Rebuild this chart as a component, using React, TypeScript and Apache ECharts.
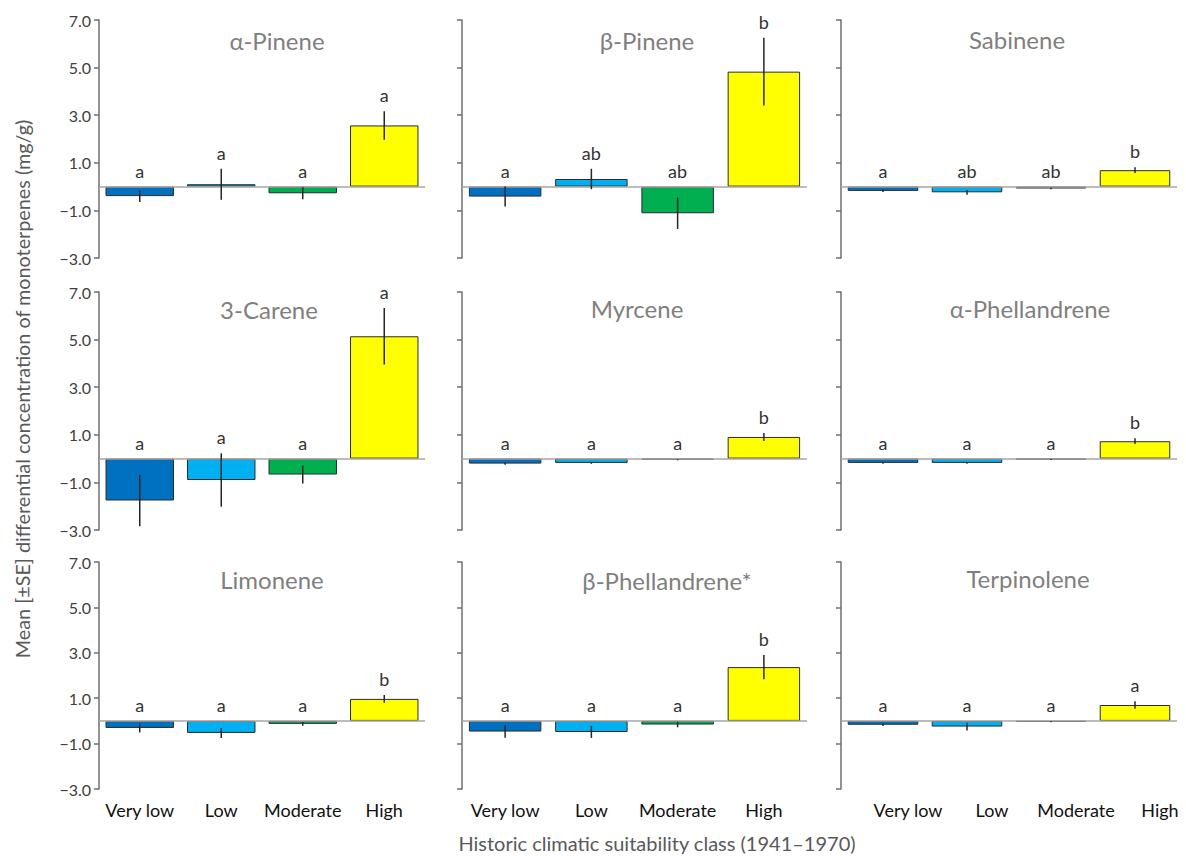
import React, { useEffect, useRef } from "react";
import * as echarts from "echarts";

const categories = ["Very low", "Low", "Moderate", "High"];
const barColors = ["#0070C0", "#00B0F0", "#00B050", "#FFFF00"];

const panelNames = [
  "α-Pinene", "β-Pinene", "Sabinene",
  "3-Carene", "Myrcene", "α-Phellandrene",
  "Limonene", "β-Phellandrene*", "Terpinolene",
];

const alphaPineneMean = [-0.4, 0.1, -0.28, 2.57];
const alphaPineneSE = [0.25, 0.65, 0.25, 0.6];
const alphaPineneLetters = ["a", "a", "a", "a"];

const betaPineneMean = [-0.42, 0.32, -1.12, 4.83];
const betaPineneSE = [0.42, 0.43, 0.66, 1.42];
const betaPineneLetters = ["a", "ab", "ab", "b"];

const sabineneMean = [-0.18, -0.24, -0.08, 0.69];
const sabineneSE = [0.05, 0.1, 0.03, 0.12];
const sabineneLetters = ["a", "ab", "ab", "b"];

const careneMean = [-1.76, -0.9, -0.67, 5.14];
const careneSE = [1.08, 1.12, 0.38, 1.19];
const careneLetters = ["a", "a", "a", "a"];

const myrceneMean = [-0.21, -0.18, -0.05, 0.91];
const myrceneSE = [0.05, 0.04, 0.02, 0.17];
const myrceneLetters = ["a", "a", "a", "b"];

const alphaPhellMean = [-0.18, -0.18, -0.04, 0.73];
const alphaPhellSE = [0.04, 0.04, 0.02, 0.12];
const alphaPhellLetters = ["a", "a", "a", "b"];

const limoneneMean = [-0.31, -0.53, -0.13, 0.97];
const limoneneSE = [0.2, 0.22, 0.08, 0.17];
const limoneneLetters = ["a", "a", "a", "b"];

const betaPhellMean = [-0.47, -0.49, -0.16, 2.37];
const betaPhellSE = [0.27, 0.26, 0.12, 0.53];
const betaPhellLetters = ["a", "a", "a", "b"];

const terpinoleneMean = [-0.17, -0.25, -0.04, 0.7];
const terpinoleneSE = [0.06, 0.17, 0.02, 0.17];
const terpinoleneLetters = ["a", "a", "a", "a"];

const means = [alphaPineneMean, betaPineneMean, sabineneMean, careneMean, myrceneMean, alphaPhellMean, limoneneMean, betaPhellMean, terpinoleneMean];
const ses = [alphaPineneSE, betaPineneSE, sabineneSE, careneSE, myrceneSE, alphaPhellSE, limoneneSE, betaPhellSE, terpinoleneSE];
const letters = [alphaPineneLetters, betaPineneLetters, sabineneLetters, careneLetters, myrceneLetters, alphaPhellLetters, limoneneLetters, betaPhellLetters, terpinoleneLetters];

const FONT = "Lato, 'Noto Sans', sans-serif";

// layout
const cols = [
  { left: 99, width: 326 },
  { left: 462, width: 345 },
  { left: 841, width: 336 },
];
const rows = [
  { top: 20, height: 238 },
  { top: 292, height: 238 },
  { top: 562, height: 227 },
];
const titlePos = [
  [277, 40], [647, 40], [1017, 39],
  [269, 309], [637, 308], [1030, 308],
  [272, 579], [667, 580], [1028, 578],
];

function fmt(v: number) {
  return (v < 0 ? "−" : "") + Math.abs(v).toFixed(1);
}

export default function App() {
  const ref = useRef<HTMLDivElement>(null);
  useEffect(() => {
    document.body.style.margin = "0";
    const chart = echarts.init(ref.current!, null, { renderer: "svg" });
    const grids: any[] = [];
    const xAxes: any[] = [];
    const yAxes: any[] = [];
    const series: any[] = [];
    const graphics: any[] = [];
    for (let i = 0; i < 9; i++) {
      const r = Math.floor(i / 3);
      const c = i % 3;
      grids.push({ left: cols[c].left, width: cols[c].width, top: rows[r].top, height: rows[r].height });
      xAxes.push({
        type: "category",
        gridIndex: i,
        data: categories,
        axisLine: { show: false, onZero: false },
        axisTick: { show: false },
        axisLabel: {
          show: r === 2,
          interval: 0,
          margin: 12,
          fontSize: 18,
          fontFamily: FONT,
          color: "#111",
          padding: c === 2 ? [0, 0, 0, 50] : 0,
        },
      });
      yAxes.push({
        type: "value",
        gridIndex: i,
        min: -3,
        max: 7,
        interval: 2,
        splitLine: { show: false },
        axisLine: { show: true, lineStyle: { color: "#6f6f6f", width: 1.5 } },
        axisTick: { show: true, length: 5, lineStyle: { color: "#6f6f6f", width: 1.5 } },
        axisLabel: {
          show: c === 0,
          formatter: fmt,
          fontSize: 16,
          fontFamily: FONT,
          color: "#404040",
          margin: 8,
        },
      });
      const m = means[i];
      const s = ses[i];
      const L = letters[i];
      series.push({
        type: "bar",
        xAxisIndex: i,
        yAxisIndex: i,
        barCategoryGap: "16%",
        data: m.map((v, k) => ({
          value: v,
          itemStyle: { color: barColors[k], borderColor: "#2b2b2b", borderWidth: 1 },
        })),
        markLine: {
          silent: true,
          symbol: ["none", "none"],
          label: { show: false },
          lineStyle: { color: "#a6a6a6", width: 1.5, type: "solid" },
          data: [{ yAxis: 0 }],
        },
        z: 2,
      });
      series.push({
        type: "custom",
        xAxisIndex: i,
        yAxisIndex: i,
        z: 5,
        data: m.map((v, k) => [k, v, s[k]]),
        renderItem: (params: any, api: any) => {
          const x = api.value(0);
          const mean = api.value(1);
          const se = api.value(2);
          const top = api.coord([x, mean + se]);
          const bot = api.coord([x, mean - se]);
          const lab = api.coord([x, Math.max(0, mean + se)]);
          return {
            type: "group",
            children: [
              {
                type: "line",
                shape: { x1: top[0], y1: top[1], x2: bot[0], y2: bot[1] },
                style: { stroke: "#262626", lineWidth: 1.5 },
              },
              {
                type: "text",
                style: {
                  text: L[params.dataIndex],
                  x: lab[0],
                  y: lab[1] - 7,
                  align: "center",
                  verticalAlign: "bottom",
                  fontSize: 18,
                  fontFamily: FONT,
                  fill: "#333",
                },
              },
            ],
          };
        },
      });
      graphics.push({
        type: "text",
        x: titlePos[i][0],
        y: titlePos[i][1],
        style: {
          text: panelNames[i],
          align: "center",
          verticalAlign: "middle",
          fontSize: 24,
          fontFamily: FONT,
          fill: "#7f7f7f",
        },
      });
    }
    graphics.push({
      type: "text",
      x: 22,
      y: 389,
      rotation: Math.PI / 2,
      style: {
        text: "Mean [±SE] differential concentration of monoterpenes (mg/g)",
        align: "center",
        verticalAlign: "middle",
        fontSize: 19.8,
        fontFamily: FONT,
        fill: "#595959",
      },
    });
    graphics.push({
      type: "text",
      x: 657,
      y: 843,
      style: {
        text: "Historic climatic suitability class (1941–1970)",
        align: "center",
        verticalAlign: "middle",
        fontSize: 20,
        fontFamily: FONT,
        fill: "#595959",
      },
    });
    chart.setOption({
      animation: false,
      backgroundColor: "#fff",
      grid: grids,
      xAxis: xAxes,
      yAxis: yAxes,
      series,
      graphic: graphics,
    });
    return () => chart.dispose();
  }, []);
  return <div ref={ref} style={{ width: 1186, height: 856 }} />;
}
